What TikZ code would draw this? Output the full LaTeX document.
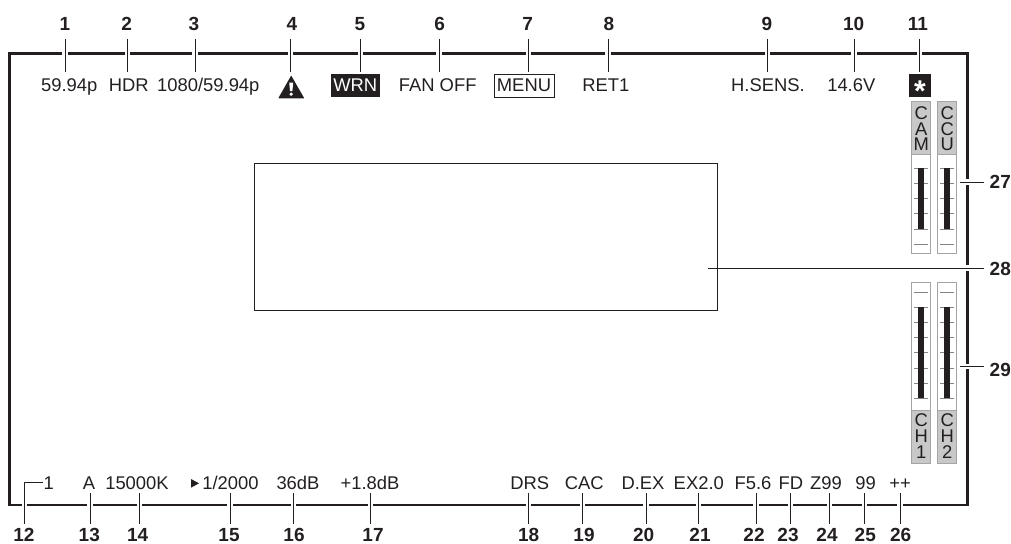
\documentclass[tikz,border=0pt]{standalone}
\usepackage{fontspec}
\setmainfont{Liberation Sans}
\definecolor{ink}{HTML}{231F20}
\definecolor{tabgrey}{HTML}{C8C8C8}
\definecolor{edgegrey}{HTML}{A5A5A5}
\newcommand{\tsz}{\fontsize{18.4}{20}\selectfont}
\newcommand{\nsz}{\fontsize{19}{20}\selectfont\bfseries}
\tikzset{
  x=1pt,y=-1pt,
  disp/.style={inner sep=0pt,text=ink,font=\tsz,anchor=base},
  num/.style={inner sep=0pt,text=ink,font=\nsz,anchor=base},
  frameline/.style={line width=2.7pt,draw=ink,line join=miter},
  halo/.style={line width=5.5pt,draw=white},
  leader/.style={line width=1pt,draw=ink},
  metertab/.style={draw=edgegrey,fill=tabgrey,line width=.9pt},
  meterbody/.style={draw=edgegrey,fill=white,line width=.9pt},
  tick/.style={draw=edgegrey!80!black,line width=.7pt},
  tabtext/.style={inner sep=0pt,text=ink,font=\fontsize{18.4}{18}\selectfont,anchor=base},
}
\newcommand{\toplead}[3]{% text, label x, line x
  \node[num] (n#1) at (#2,30.5) {#1};
  \coordinate (t#1) at (#3,71.5);
  \coordinate (s#1) at (#3,39);
  \draw[halo] (#3,49) -- (#3,58);
  \draw[leader] (s#1) -- (t#1);
}
\newcommand{\botlead}[3]{%
  \node[num] (n#1) at (#2,541) {#1};
  \coordinate (t#1) at (#3,493);
  \coordinate (s#1) at (#3,523.5);
  \draw[halo] (#3,500.5) -- (#3,509.5);
  \draw[leader] (s#1) -- (t#1);
}
\newcommand{\metertop}[4]{%
  \draw[meterbody] (#1,154.5) rectangle (#1+19.2,253);
  \draw[metertab] (#1,101.5) rectangle (#1+19.2,154.5);
  \node[tabtext] at (#1+9.6,119.3) {#2};
  \node[tabtext] at (#1+9.6,135) {#3};
  \node[tabtext] at (#1+9.6,150.5) {#4};
  \foreach \yy in {168,183.3,198.3,213.7,229}{\draw[tick] (#1+2.8,\yy) -- (#1+16.2,\yy);}
  \fill[ink] (#1+6.2,168) rectangle (#1+12.8,229);
  \draw[tick] (#1+2.8,244) -- (#1+16.2,244);
}
\newcommand{\meterbot}[4]{%
  \draw[meterbody] (#1,282.7) rectangle (#1+19.2,410);
  \draw[metertab] (#1,410) rectangle (#1+19.2,463.3);
  \node[tabtext] at (#1+9.6,426.7) {#2};
  \node[tabtext] at (#1+9.6,442.5) {#3};
  \node[tabtext] at (#1+9.6,458.3) {#4};
  \draw[tick] (#1+2.8,292.3) -- (#1+16.2,292.3);
  \foreach \yy in {307.3,322.5,337.7,352.7,368,383.3,398.3}{\draw[tick] (#1+2.8,\yy) -- (#1+16.2,\yy);}
  \fill[ink] (#1+6.2,307.3) rectangle (#1+12.8,398.3);
}
\begin{document}
\begin{tikzpicture}
\useasboundingbox (0,0) rectangle (1011,543);
\draw[frameline] (9.5,53.7) rectangle (967.3,505);
\draw[draw=ink,line width=.8pt] (254.5,163.5) rectangle (717.5,310.5);
% top leaders
\toplead{1}{65}{65}
\toplead{2}{126.7}{127.7}
\toplead{3}{194}{195}
\toplead{4}{292}{290.7}
\toplead{5}{360}{360.7}
\toplead{6}{439.7}{439}
\toplead{7}{527.7}{528.3}
\toplead{8}{609}{608}
\toplead{9}{767}{767.3}
\toplead{10}{853.7}{854}
\toplead{11}{918}{919.3}
% bottom leaders
\botlead{12}{24}{24.3}
\botlead{13}{89.3}{90}
\botlead{14}{137.7}{139.3}
\botlead{15}{229}{230}
\botlead{16}{294}{293.7}
\botlead{17}{373}{370.7}
\botlead{18}{528.7}{528.7}
\botlead{19}{584}{582.7}
\botlead{20}{643.7}{646}
\botlead{21}{700}{698.7}
\botlead{22}{754}{756}
\botlead{23}{788}{790.7}
\botlead{24}{827}{829.3}
\botlead{25}{865.3}{864.7}
\botlead{26}{900.7}{900}
% top display texts
\node[disp] (d1) at (69.2,92) {59.94p};
\node[disp] (d2) at (128.8,92) {HDR};
\node[disp] (d3) at (208.3,92) {1080/59.94p};
\fill[ink,rounded corners=.6pt] (291.2,75.5) -- (304.3,98.4) -- (278.2,98.4) -- cycle;
\fill[white] (289.2,82.5) -- (293.2,82.5) -- (292.4,91) -- (290,91) -- cycle;
\fill[white] (291.2,94.2) circle (1.8);
\node[fill=ink,text=white,font=\tsz,inner sep=0pt,minimum width=49.5pt,minimum height=23pt] (d5) at (355.3,85.5) {WRN};
\node[disp] (d6) at (437.7,92) {FAN OFF};
\node[draw=ink,line width=.8pt,font=\tsz,text=ink,inner sep=0pt,minimum width=60pt,minimum height=23pt] (d7) at (524,85.5) {MENU};
\node[disp] (d8) at (605.8,92) {RET1};
\node[disp] (d9) at (768,92) {H.SENS.};
\node[disp] (d10) at (851.3,92) {14.6V};
\node[fill=ink,minimum width=22pt,minimum height=23pt,inner sep=0pt] (d11) at (920,85.5) {};
\node[inner sep=0pt,text=white,font=\fontsize{30}{30}\selectfont\bfseries,anchor=center] (star) at (920,91.5) {*};
% bottom display texts
\coordinate (c12) at (43,482.3);
\draw[leader,line width=.9pt] (t12) -- (24.3,482.3) -- (c12);
\node[disp] (d12) at (48.7,489) {1};
\node[disp] (d13) at (89,489) {A};
\node[disp] (d14) at (137,489) {15000K};
\fill[ink] (191,479) -- (199,483.3) -- (191,487.7) -- cycle;
\node[disp] (d15) at (230.5,489) {1/2000};
\node[disp] (d16) at (298,489) {36dB};
\node[disp] (d17) at (370,489) {+1.8dB};
\node[disp] (d18) at (529.7,489) {DRS};
\node[disp] (d19) at (584.3,489) {CAC};
\node[disp] (d20) at (643,489) {D.EX};
\node[disp] (d21) at (698.8,489) {EX2.0};
\node[disp] (d22) at (753,489) {F5.6};
\node[disp] (d23) at (791,489) {FD};
\node[disp] (d24) at (826,489) {Z99};
\node[disp] (d25) at (865.5,489) {99};
\node[disp] (d26) at (900,489) {++};
% meters
\metertop{911.6}{C}{A}{M}
\metertop{937.6}{C}{C}{U}
\meterbot{911.6}{C}{H}{1}
\meterbot{937.6}{C}{H}{2}
% right leaders
\node[num,anchor=base west] (n27) at (989.5,188) {27};
\node[num,anchor=base west] (n28) at (989.5,275) {28};
\node[num,anchor=base west] (n29) at (989.5,376) {29};
\draw[halo] (963,182) -- (972,182);
\draw[halo] (963,268) -- (972,268);
\draw[halo] (963,366.7) -- (972,366.7);
\coordinate (e27) at (984,182);
\coordinate (e28) at (984,268);
\coordinate (e29) at (984,366.7);
\coordinate (r27) at (960,182);
\coordinate (r28) at (708,268);
\coordinate (r29) at (960,366.7);
\draw[leader] (e27) -- (r27);
\draw[leader] (e28) -- (r28);
\draw[leader] (e29) -- (r29);
\end{tikzpicture}
\end{document}
